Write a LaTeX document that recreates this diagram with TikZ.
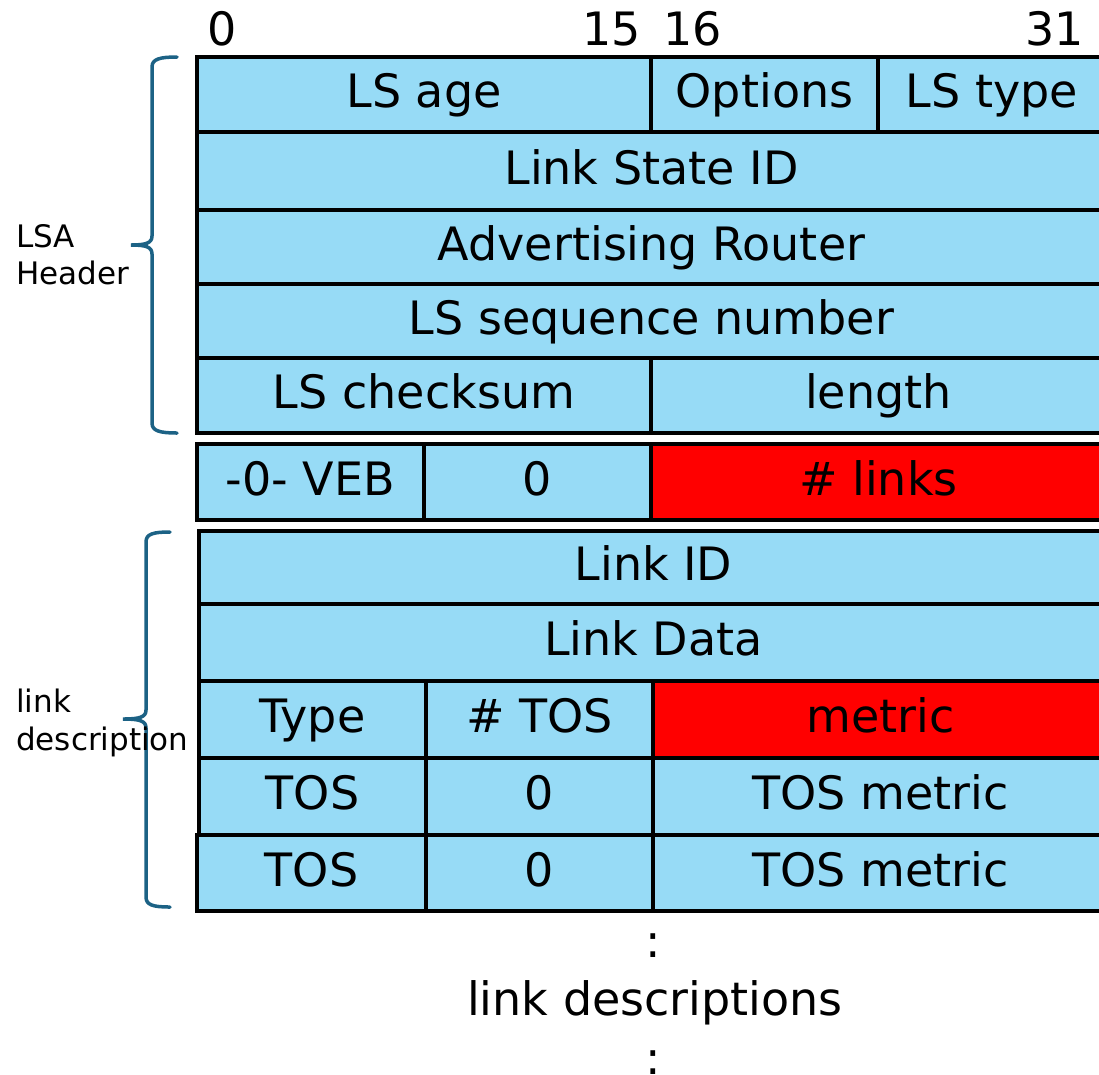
\documentclass[tikz,border=0pt]{standalone}
\usepackage{fontspec}
\setmainfont{DejaVu Sans}
\definecolor{fieldblue}{RGB}{151,219,246}
\definecolor{fieldred}{RGB}{255,0,0}
\definecolor{bracecol}{RGB}{28,98,133}
\tikzset{
  field/.style={draw=black, line width=3.5pt, fill=fieldblue, inner sep=0pt,
    outer sep=0pt, font=\fontsize{46}{46}\selectfont, text height=34pt, text depth=8pt},
  hot/.style={field, fill=fieldred},
  bignote/.style={inner sep=0pt, font=\fontsize{46}{46}\selectfont},
  sidenote/.style={inner sep=0pt, anchor=base west, font=\fontsize{31}{31}\selectfont},
  brace/.style={draw=bracecol, line width=3.5pt, line cap=round}
}
% \fld[style]{x1}{y1}{x2}{y2}{name}{text}: one packet field as a box
\newcommand\fld[7][field]{%
  \pgfmathsetmacro\fw{#4-#2}\pgfmathsetmacro\fh{#5-#3}%
  \node[#1, minimum width=\fw pt, minimum height=\fh pt] (#6) at ({(#2+#4)/2},{(#3+#5)/2}) {#7};}
\begin{document}
\begin{tikzpicture}[x=1pt, y=-1pt]
\useasboundingbox (0,0) rectangle (1099,1074);
\clip (0,0) rectangle (1099,1074);

% bit positions
\node[bignote, anchor=base west] (b0) at (207,45) {0};
\node[bignote, anchor=base east] (b15) at (641,45) {15};
\node[bignote, anchor=base west] (b16) at (663,45) {16};
\node[bignote, anchor=base east] (b31) at (1084,45) {31};

% LSA header
\fld{197}{57}{651}{132}{lsage}{LS age}
\fld{651}{57}{878}{132}{options}{Options}
\fld{878}{57}{1106}{132}{lstype}{LS type}
\fld{197}{132}{1106}{210}{lsid}{Link State ID}
\fld{197}{210}{1106}{284}{advrtr}{Advertising Router}
\fld{197}{284}{1106}{358}{lsseq}{LS sequence number}
\fld{197}{358}{651}{433}{lscsum}{LS checksum}
\fld{651}{358}{1106}{433}{lslen}{length}

% router LSA flags word
\fld{197}{444}{424}{520}{veb}{-0- VEB}
\fld{424}{444}{651}{520}{zero}{0}
\fld[hot]{651}{444}{1106}{520}{nlinks}{\# links}

% one link description
\fld{199}{531}{1108}{604}{linkid}{Link ID}
\fld{199}{604}{1108}{681}{linkdata}{Link Data}
\fld{199}{681}{426}{758}{ltype}{Type}
\fld{426}{681}{653}{758}{ntos}{\# TOS}
\fld[hot]{653}{681}{1108}{758}{metric}{metric}
\fld{199}{758}{426}{835}{tosa}{TOS}
\fld{426}{758}{653}{835}{zeroa}{0}
\fld{653}{758}{1108}{835}{tosma}{TOS metric}
\fld{197}{835}{426}{911}{tosb}{TOS}
\fld{426}{835}{653}{911}{zerob}{0}
\fld{653}{835}{1108}{911}{tosmb}{TOS metric}

% continuation
\node[bignote, anchor=base] (dotsa) at (653,957) {:};
\node[bignote, anchor=base] (more) at (655,1015) {link descriptions};
\node[bignote, anchor=base] (dotsb) at (653,1074) {:};

% braces and their labels
\draw[brace] (177,57) .. controls (160,57) and (152,59) .. (152,67) -- (152,236)
  .. controls (152,243) and (146,245) .. (131,245)
  .. controls (146,245) and (152,247) .. (152,254) -- (152,423)
  .. controls (152,431) and (160,433) .. (177,433);
\node[sidenote] (lsa) at (16,247) {LSA};
\node[sidenote] (hdr) at (16,284) {Header};

\draw[brace] (170,532) .. controls (153,532) and (146,534) .. (146,542) -- (146,710)
  .. controls (146,717) and (140,719) .. (123,719)
  .. controls (140,719) and (146,721) .. (146,728) -- (146,897)
  .. controls (146,905) and (153,907) .. (170,907);
\node[sidenote] (lnk) at (16,712) {link};
\node[sidenote] (descr) at (16,750) {description};
\end{tikzpicture}
\end{document}
